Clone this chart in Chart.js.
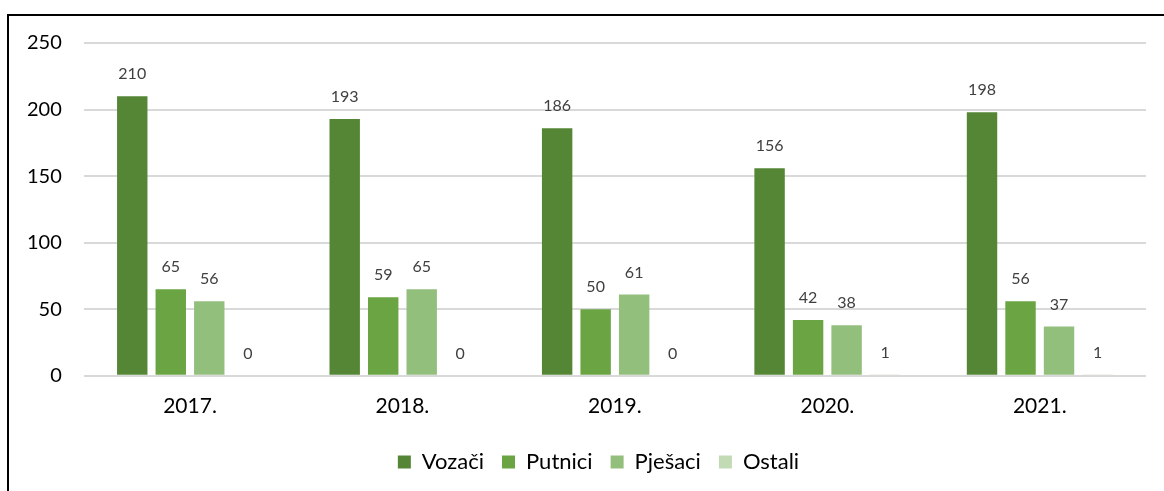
<!DOCTYPE html>
<html>
<head>
<meta charset="utf-8">
<script src="https://cdn.jsdelivr.net/npm/chart.js@4.4.1/dist/chart.umd.min.js"></script>
<style>
  html, body { margin: 0; padding: 0; background: #fff; }
  body { width: 1164px; height: 491px; position: relative; overflow: hidden; }
  #wrap { position: absolute; left: 0; top: 0; width: 1164px; height: 491px; }
  #frame { position: absolute; left: 7px; top: 14px; width: 1200px; height: 600px;
           border-top: 2px solid #000; border-left: 2px solid #000; pointer-events: none; }
</style>
</head>
<body>
<div id="wrap"><canvas id="c" width="1164" height="491"></canvas></div>
<div id="frame"></div>
<script>
const categories = ['2017.', '2018.', '2019.', '2020.', '2021.'];
const seriesNames = ['Vozači', 'Putnici', 'Pješaci', 'Ostali'];
const vozaci  = [210, 193, 186, 156, 198];
const putnici = [65, 59, 50, 42, 56];
const pjesaci = [56, 65, 61, 38, 37];
const ostali  = [0, 0, 0, 1, 1];
const yTicks = [0, 50, 100, 150, 200, 250];

const colors = ['#558636', '#6aa443', '#93bf7c', '#c2dbb4'];
const FONT = 'Lato, "Open Sans", sans-serif';

const valueLabels = {
  id: 'valueLabels',
  afterDatasetsDraw(chart) {
    const ctx = chart.ctx;
    ctx.save();
    ctx.font = '16px ' + FONT;
    ctx.fillStyle = '#404040';
    ctx.textAlign = 'center';
    ctx.textBaseline = 'middle';
    chart.data.datasets.forEach((ds, i) => {
      const meta = chart.getDatasetMeta(i);
      meta.data.forEach((bar, j) => {
        ctx.fillText(String(ds.data[j]), bar.x, bar.y - 22);
      });
    });
    ctx.restore();
  }
};

const legendShift = {
  id: 'legendShift',
  afterLayout(chart) {
    if (chart.legend) { chart.legend.left += 23; chart.legend.right += 23; }
  }
};

const allSeries = [vozaci, putnici, pjesaci, ostali];
new Chart(document.getElementById('c'), {
  type: 'bar',
  data: {
    labels: categories,
    datasets: allSeries.map((d, i) => ({
      label: seriesNames[i],
      data: d,
      backgroundColor: colors[i],
      borderWidth: 0,
      categoryPercentage: 0.725,
      barPercentage: 0.79
    }))
  },
  options: {
    responsive: false,
    animation: false,
    layout: { padding: { left: 5, right: 18, top: 43, bottom: 8 } },
    plugins: {
      legend: {
        position: 'bottom',
        labels: {
          boxWidth: 13, boxHeight: 13, padding: 18,
          color: '#000',
          font: { family: FONT, size: 22 }
        }
      },
      tooltip: { enabled: false }
    },
    scales: {
      x: {
        grid: { display: false },
        border: { display: false },
        afterFit(scale) { scale.height += 4; },
        ticks: { color: '#000', padding: 10, font: { family: FONT, size: 21 } }
      },
      y: {
        min: 0, max: 250,
        afterBuildTicks(scale) { scale.ticks = yTicks.map(v => ({ value: v })); },
        grid: { color: '#d9d9d9', lineWidth: 2, drawTicks: false },
        border: { display: false },
        ticks: { color: '#000', padding: 22, font: { family: FONT, size: 20 } }
      }
    }
  },
  plugins: [valueLabels, legendShift]
});
</script>
</body>
</html>
